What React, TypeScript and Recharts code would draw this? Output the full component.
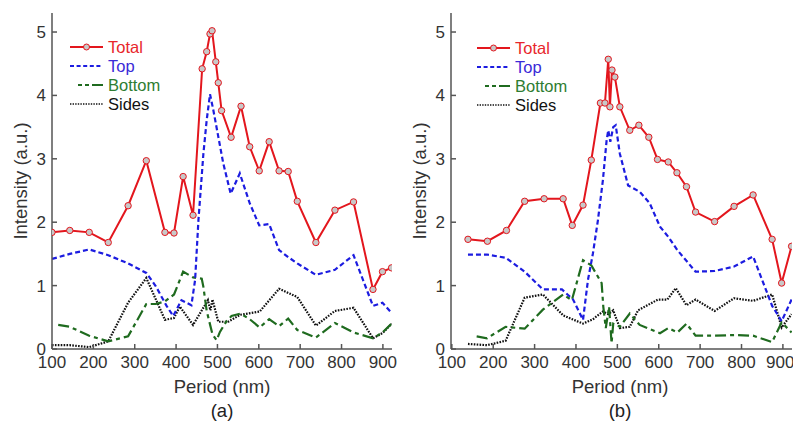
import React from 'react';
import { LineChart, Line, XAxis, YAxis } from 'recharts';

// panel (a)
const totalAX = [100, 143, 190, 236, 284, 328, 373, 395, 417, 441, 463, 474, 482, 487, 496, 502, 510, 533, 557, 578, 601, 625, 649, 671, 693, 738, 784, 829, 876, 899, 921];
const totalAY = [1.84, 1.87, 1.84, 1.68, 2.26, 2.97, 1.84, 1.83, 2.72, 2.11, 4.42, 4.69, 4.97, 5.02, 4.53, 4.2, 3.76, 3.34, 3.83, 3.19, 2.81, 3.27, 2.81, 2.8, 2.33, 1.68, 2.19, 2.32, 0.94, 1.22, 1.28];
const topAX = [100, 143, 190, 236, 284, 328, 351, 377, 393, 413, 437, 446, 454, 466, 474, 482, 490, 502, 514, 532, 554, 578, 601, 625, 649, 671, 693, 738, 784, 829, 876, 899, 921];
const topAY = [1.42, 1.5, 1.57, 1.48, 1.35, 1.2, 0.99, 0.68, 0.52, 0.77, 0.69, 1.09, 2.03, 3.08, 3.61, 4.02, 3.77, 3.35, 2.93, 2.45, 2.77, 2.3, 1.95, 1.97, 1.56, 1.45, 1.35, 1.17, 1.25, 1.48, 0.68, 0.73, 0.57];
const bottomAX = [115, 143, 190, 236, 284, 328, 351, 373, 395, 417, 441, 462, 466, 474, 488, 498, 506, 522, 534, 556, 578, 602, 625, 649, 671, 693, 738, 784, 829, 876, 899, 921];
const bottomAY = [0.38, 0.35, 0.21, 0.12, 0.2, 0.71, 0.71, 0.75, 0.86, 1.22, 1.13, 1.11, 0.98, 0.6, 0.23, 0.14, 0.27, 0.44, 0.52, 0.56, 0.47, 0.34, 0.47, 0.36, 0.48, 0.3, 0.18, 0.41, 0.26, 0.17, 0.26, 0.4];
const sidesAX = [100, 143, 190, 236, 284, 328, 373, 395, 409, 441, 465, 477, 483, 488, 502, 526, 555, 602, 649, 693, 738, 784, 829, 876, 899, 921];
const sidesAY = [0.06, 0.06, 0.03, 0.12, 0.73, 1.12, 0.46, 0.49, 0.67, 0.38, 0.64, 0.77, 0.61, 0.78, 0.43, 0.43, 0.54, 0.59, 0.95, 0.82, 0.37, 0.6, 0.65, 0.17, 0.25, 0.4];

// panel (b)
const totalBX = [139, 186, 232, 276, 323, 369, 391, 417, 437, 459, 470, 478, 482, 487, 494, 506, 530, 552, 576, 597, 623, 644, 667, 689, 735, 782, 828, 874, 897, 921];
const totalBY = [1.73, 1.7, 1.87, 2.33, 2.37, 2.37, 1.95, 2.27, 2.98, 3.88, 3.88, 4.57, 3.82, 4.4, 4.29, 3.82, 3.45, 3.53, 3.34, 2.99, 2.95, 2.78, 2.56, 2.16, 2.01, 2.25, 2.43, 1.73, 1.04, 1.62];
const topBX = [139, 185, 230, 276, 320, 366, 393, 417, 429, 441, 453, 465, 474, 478, 483, 490, 496, 506, 526, 554, 578, 603, 623, 645, 689, 735, 782, 828, 874, 897, 921];
const topBY = [1.49, 1.49, 1.44, 1.22, 0.94, 0.94, 0.78, 0.46, 1.09, 1.51, 2.03, 2.66, 3.29, 3.45, 3.27, 3.5, 3.53, 3.08, 2.58, 2.48, 2.3, 1.93, 1.77, 1.56, 1.22, 1.23, 1.3, 1.46, 0.68, 0.44, 0.78];
const bottomBX = [160, 185, 230, 276, 320, 369, 390, 417, 437, 462, 466, 472, 480, 486, 490, 506, 530, 554, 603, 623, 645, 667, 689, 735, 782, 828, 874, 897, 921];
const bottomBY = [0.2, 0.17, 0.35, 0.32, 0.62, 0.86, 0.77, 1.4, 1.32, 1.04, 0.67, 0.33, 0.67, 0.09, 0.4, 0.35, 0.56, 0.38, 0.25, 0.33, 0.26, 0.4, 0.21, 0.21, 0.22, 0.21, 0.11, 0.42, 0.26];
const sidesBX = [139, 185, 230, 276, 320, 369, 417, 441, 465, 478, 490, 506, 530, 550, 598, 621, 641, 667, 689, 735, 782, 828, 874, 897, 921];
const sidesBY = [0.08, 0.06, 0.13, 0.81, 0.86, 0.53, 0.4, 0.47, 0.59, 0.55, 0.61, 0.33, 0.35, 0.61, 0.78, 0.78, 0.96, 0.69, 0.78, 0.6, 0.8, 0.76, 0.86, 0.34, 0.55];

const xTicks = [100, 200, 300, 400, 500, 600, 700, 800, 900];
const yTicks = [0, 1, 2, 3, 4, 5];
const seriesNames = ['Total', 'Top', 'Bottom', 'Sides'];

const FONT = '"Liberation Sans", Arial, sans-serif';
const RED = '#e3161d';
const BLUE = '#1c1ce0';
const GREEN = '#1f6b1f';
const BLACK = '#111111';
const AXIS = '#555555';

const pts = (xs: number[], ys: number[]) => xs.map((x, i) => ({ x, y: ys[i] }));

type PanelProps = {
  left: number;
  width: number;
  marginLeft: number;
  marginRight: number;
  domain: [number, number];
  total: { x: number; y: number }[];
  top: { x: number; y: number }[];
  bottom: { x: number; y: number }[];
  sides: { x: number; y: number }[];
  legendX: number;
  legendY: number;
  titleX: number;
  periodX: number;
  caption: string;
};

const Legend = ({ x, y }: { x: number; y: number }) => {
  const colors = ['#e8262b', '#3a2ad8', '#2e7d32', '#111'];
  return (
    <svg style={{ position: 'absolute', left: 0, top: 0, overflow: 'visible' }} width={1} height={1}>
      {seriesNames.map((name, i) => {
        const yy = y + i * 19;
        return (
          <g key={name}>
            {i === 0 && (
              <>
                <line x1={x} x2={x + 33} y1={yy} y2={yy} stroke={RED} strokeWidth={2} />
                <circle cx={x + 16.5} cy={yy} r={3} stroke={RED} fill="#c8c8c8" strokeWidth={1} />
              </>
            )}
            {i === 1 && <line x1={x} x2={x + 33} y1={yy} y2={yy} stroke={BLUE} strokeWidth={2} strokeDasharray="4 2.6" />}
            {i === 2 && <line x1={x + 8} x2={x + 33} y1={yy} y2={yy} stroke={GREEN} strokeWidth={2} strokeDasharray="4 3 4 3 11" />}
            {i === 3 && <line x1={x} x2={x + 33} y1={yy} y2={yy} stroke={BLACK} strokeWidth={1.6} strokeDasharray="1.4 1.2" />}
            <text x={x + 38} y={yy} dominantBaseline="central" fontSize={16.5} fill={colors[i]} fontFamily={FONT}>
              {name}
            </text>
          </g>
        );
      })}
    </svg>
  );
};

const Panel = (p: PanelProps) => (
  <div style={{ position: 'absolute', left: p.left, top: 0, width: p.width, height: 422 }}>
    <LineChart width={p.width} height={422} margin={{ top: 13, right: p.marginRight, bottom: 43, left: p.marginLeft }}>
      <XAxis
        dataKey="x"
        type="number"
        domain={p.domain}
        ticks={xTicks}
        allowDataOverflow
        height={30}
        tickSize={-5}
        tickMargin={12}
        axisLine={{ stroke: AXIS, strokeWidth: 1.5 }}
        tickLine={{ stroke: AXIS, strokeWidth: 1.5 }}
        tick={{ fill: '#333', fontSize: 17, fontFamily: FONT }}
      />
      <XAxis
        xAxisId="top"
        orientation="top"
        dataKey="x"
        type="number"
        domain={p.domain}
        ticks={xTicks}
        allowDataOverflow
        height={0}
        tickSize={-5}
        tick={false}
        axisLine={{ stroke: AXIS, strokeWidth: 1.5 }}
        tickLine={{ stroke: AXIS, strokeWidth: 1.5 }}
      />
      <YAxis
        type="number"
        domain={[0, 5.3]}
        ticks={yTicks}
        allowDataOverflow
        width={40}
        tickSize={-5}
        tickMargin={11}
        axisLine={{ stroke: AXIS, strokeWidth: 1.5 }}
        tickLine={{ stroke: AXIS, strokeWidth: 1.5 }}
        tick={{ fill: '#333', fontSize: 17, fontFamily: FONT }}
      />
      <YAxis
        yAxisId="right"
        orientation="right"
        type="number"
        domain={[0, 5.3]}
        ticks={yTicks}
        allowDataOverflow
        width={0}
        tickSize={-5}
        tick={false}
        axisLine={{ stroke: AXIS, strokeWidth: 1.5 }}
        tickLine={{ stroke: AXIS, strokeWidth: 1.5 }}
      />
      <Line data={p.sides} dataKey="y" stroke={BLACK} strokeWidth={2.2} strokeDasharray="1.6 1.3" dot={false} isAnimationActive={false} />
      <Line data={p.bottom} dataKey="y" stroke={GREEN} strokeWidth={2.2} strokeDasharray="11 4 4 4" dot={false} isAnimationActive={false} />
      <Line data={p.top} dataKey="y" stroke={BLUE} strokeWidth={2.2} strokeDasharray="5 3" dot={false} isAnimationActive={false} />
      <Line
        data={p.total}
        dataKey="y"
        stroke={RED}
        strokeWidth={2}
        dot={{ r: 3.2, stroke: RED, strokeWidth: 1, fill: '#c8c8c8' }}
        isAnimationActive={false}
      />
    </LineChart>
    <Legend x={p.legendX} y={p.legendY} />
    <div
      style={{
        position: 'absolute',
        left: p.titleX,
        top: 181,
        transform: 'translate(-50%, -50%) rotate(-90deg)',
        whiteSpace: 'nowrap',
        fontSize: 18.5,
        color: '#333',
        fontFamily: FONT,
      }}
    >
      Intensity (a.u.)
    </div>
    <div style={{ position: 'absolute', left: p.periodX, top: 387, transform: 'translate(-50%, -50%)', whiteSpace: 'nowrap', fontSize: 18.5, color: '#333', fontFamily: FONT }}>
      Period (nm)
    </div>
    <div style={{ position: 'absolute', left: p.periodX, top: 411, transform: 'translate(-50%, -50%)', whiteSpace: 'nowrap', fontSize: 18.5, color: '#222', fontFamily: FONT }}>
      {p.caption}
    </div>
  </div>
);

export default function App() {
  return (
    <div style={{ position: 'absolute', left: 0, top: 0, width: 793, height: 422, background: '#fff', overflow: 'hidden' }}>
      <Panel
        left={0}
        width={400}
        marginLeft={12}
        marginRight={8}
        domain={[100, 922]}
        total={pts(totalAX, totalAY)}
        top={pts(topAX, topAY)}
        bottom={pts(bottomAX, bottomAY)}
        sides={pts(sidesAX, sidesAY)}
        legendX={70}
        legendY={47}
        titleX={21}
        periodX={222}
        caption="(a)"
      />
      <Panel
        left={400}
        width={393}
        marginLeft={11}
        marginRight={1}
        domain={[98, 922]}
        total={pts(totalBX, totalBY)}
        top={pts(topBX, topBY)}
        bottom={pts(bottomBX, bottomBY)}
        sides={pts(sidesBX, sidesBY)}
        legendX={77}
        legendY={48}
        titleX={20}
        periodX={220}
        caption="(b)"
      />
    </div>
  );
}
